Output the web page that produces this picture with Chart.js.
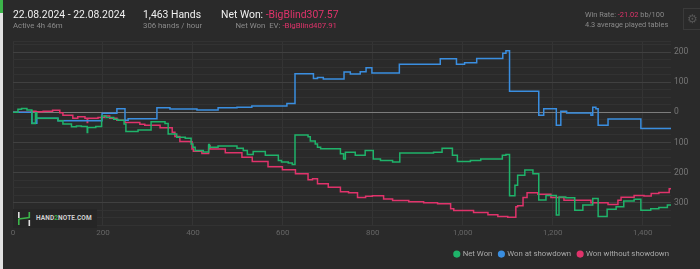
<!DOCTYPE html>
<html>
<head>
<meta charset="utf-8">
<script src="https://cdn.jsdelivr.net/npm/chart.js@4.4.1/dist/chart.umd.min.js"></script>
<style>
  html, body { margin: 0; padding: 0; background: #2a2a2a; }
  body { width: 700px; height: 269px; position: relative; overflow: hidden; font-family: Roboto, 'Noto Sans', sans-serif; }
  .t { position: absolute; white-space: nowrap; line-height: 1; }
  .big { font-size: 10.4px; color: #f0f0f0; }
  .small { font-size: 7.8px; color: #8a8a8a; }
  .tiny { font-size: 7.4px; color: #8a8a8a; }
  .neg { color: #e0336b; }
  #chartBox { position: absolute; left: 0; top: 0; width: 700px; height: 269px; }
  #edge { position: absolute; left: 0; top: 0; width: 3px; height: 269px; background: #e2e2e2; }
  #edge::before { content: ''; position: absolute; left: 0; top: 0; width: 3px; height: 13px; background: #3cb54a; }
  #gear { position: absolute; left: 683px; top: 8px; width: 17px; height: 22px; border: 1px solid #3a3a3a; border-right: none; box-sizing: border-box; color: #555; font-size: 12px; text-align: center; line-height: 20px; }
  #wm { position: absolute; left: 13px; top: 209px; width: 84px; height: 19px; background: #262626; }
  #wm span.txt { position: absolute; left: 23px; top: 6px; font-size: 6.5px; font-weight: bold; color: #d0d0d0; letter-spacing: 0.1px; line-height: 1; }
  #wm svg { position: absolute; left: 4px; top: 3px; }
</style>
</head>
<body>
<div id="chartBox"><canvas id="chart" width="700" height="269"></canvas></div>

<div class="t big" style="left:13px; top:9.5px;">22.08.2024 - 22.08.2024</div>
<div class="t small" style="left:13px; top:22px;">Active 4h 46m</div>
<div class="t big" style="left:143px; top:9.5px;">1,463 Hands</div>
<div class="t small" style="left:143px; top:22px;">306 hands / hour</div>
<div class="t big" style="left:221px; top:9.5px;">Net Won: <span class="neg">-BigBlind307.57</span></div>
<div class="t small" style="right:363px; top:22px;">Net Won&nbsp; EV: <span class="neg">-BigBlind407.91</span></div>
<div class="t tiny" style="left:585px; top:11px;">Win Rate: <span class="neg">-21.02</span> bb/100</div>
<div class="t tiny" style="left:585px; top:21px;">4.3 average played tables</div>
<div id="gear">&#9881;</div>
<div id="edge"></div>
<div id="wm">
  <svg width="14" height="14" viewBox="0 0 14 14">
    <rect x="1" y="0" width="1.6" height="6" fill="#e0e0e0"/>
    <rect x="1" y="7" width="1.6" height="6" fill="#3cb54a"/>
    <rect x="11.5" y="0" width="1.6" height="6" fill="#3cb54a"/>
    <rect x="11.5" y="8" width="1.6" height="6" fill="#e0e0e0"/>
    <line x1="1.5" y1="7" x2="12.5" y2="5.5" stroke="#3cb54a" stroke-width="1.5"/>
  </svg>
  <span class="txt">HAND<span style="color:#3cb54a">2</span>NOTE.COM</span>
</div>

<script>
// hands where each level starts, and the cumulative big blinds from there
const netHands = [0, 11, 19, 31, 42, 50, 53, 100, 111, 130, 141, 152, 165, 166, 184, 197, 207, 224, 233, 247, 251, 278, 307, 338, 345, 364, 383, 396, 400, 405, 423, 435, 437, 456, 498, 512, 521, 534, 561, 590, 597, 612, 621, 627, 656, 661, 672, 677, 684, 728, 735, 739, 761, 783, 801, 817, 844, 860, 935, 954, 977, 988, 1017, 1040, 1088, 1096, 1104, 1116, 1122, 1138, 1156, 1169, 1185, 1208, 1214, 1229, 1249, 1267, 1289, 1301, 1321, 1341, 1358, 1381, 1396, 1418, 1436, 1455, 1463];
const netWon =   [0, 10, 13, 8, -37, -1, -20, -28, -39, -48, -45, -47, -67, -50, -47, -12, -17, -23, -26, -39, -64, -59, -31, -37, -72, -83, -86, -105, -116, -127, -132, -107, -116, -112, -119, -127, -140, -130, -143, -160, -165, -168, -173, -75, -81, -95, -105, -116, -121, -138, -155, -133, -143, -127, -155, -160, -165, -135, -133, -119, -143, -163, -160, -155, -143, -140, -277, -242, -209, -192, -204, -291, -276, -341, -281, -284, -325, -308, -286, -346, -322, -314, -295, -289, -325, -320, -316, -308, -307.57];

const sdHands = [0, 42, 53, 100, 198, 231, 249, 256, 320, 349, 409, 456, 498, 531, 609, 627, 668, 677, 690, 736, 750, 772, 785, 798, 859, 950, 986, 1004, 1031, 1089, 1096, 1104, 1169, 1180, 1208, 1218, 1231, 1285, 1289, 1296, 1301, 1323, 1396, 1463];
const sdWon =   [0, -36, -20, -28, -3, 12, -26, -21, 15, 11, 8, 15, 17, 21, 29, 128, 112, 116, 111, 134, 127, 135, 148, 131, 160, 178, 160, 165, 179, 196, 205, 70, -10, 12, -43, 4, -2, -10, 17, 12, -43, -22, -54, -54];

const nsdHands = [0, 41, 51, 67, 88, 104, 111, 133, 144, 160, 165, 166, 189, 204, 215, 231, 249, 282, 293, 327, 354, 360, 371, 394, 398, 401, 420, 435, 438, 472, 509, 532, 567, 599, 628, 656, 666, 677, 701, 728, 746, 766, 784, 799, 824, 844, 880, 913, 944, 973, 980, 1024, 1056, 1078, 1100, 1118, 1122, 1134, 1143, 1167, 1196, 1225, 1285, 1323, 1345, 1352, 1381, 1403, 1419, 1436, 1459, 1463];
const nsdWon =   [0, 4, 2, 4, 7, -1, -10, -20, -15, -20, -34, -20, -17, -12, -20, -26, -34, -40, -43, -51, -66, -80, -97, -98, -122, -129, -137, -111, -122, -134, -149, -163, -181, -191, -204, -224, -221, -237, -249, -264, -267, -283, -279, -277, -288, -293, -297, -300, -304, -320, -326, -333, -340, -346, -349, -314, -310, -283, -267, -272, -283, -292, -300, -306, -292, -282, -276, -278, -270, -266, -254, -253];

const seriesNames = ['Net Won', 'Won at showdown', 'Won without showdown'];
const seriesColors = ['#1fb36a', '#3a8ee0', '#e0336b'];
const xTicks = [0, 200, 400, 600, 800, 1000, 1200, 1400];
const yTicks = [];
for (let v = -375; v <= 225; v += 25) yTicks.push(v);
yTicks.push(237);

function toPoints(xs, ys) {
  return xs.map((x, i) => ({ x: x, y: ys[i] }));
}

const lineStyle = { borderWidth: 1.5, pointRadius: 0, stepped: true, tension: 0, fill: false };

// legend ends at the plot's right edge, not the canvas edge
const legendShift = {
  id: 'legendShift',
  afterLayout(chart) {
    const lg = chart.legend;
    const d = lg.right - chart.chartArea.right - 5;
    lg.left -= d;
    lg.right -= d;
    lg.top += 4;
    lg.bottom += 4;
  }
};

new Chart(document.getElementById('chart').getContext('2d'), {
  type: 'line',
  data: {
    datasets: [
      { label: seriesNames[0], data: toPoints(netHands, netWon), borderColor: seriesColors[0], backgroundColor: seriesColors[0], ...lineStyle },
      { label: seriesNames[1], data: toPoints(sdHands, sdWon), borderColor: seriesColors[1], backgroundColor: seriesColors[1], ...lineStyle },
      { label: seriesNames[2], data: toPoints(nsdHands, nsdWon), borderColor: seriesColors[2], backgroundColor: seriesColors[2], ...lineStyle }
    ]
  },
  plugins: [legendShift],
  options: {
    responsive: false,
    animation: false,
    layout: { padding: { left: 13, top: 41, right: 0, bottom: 5 } },
    plugins: {
      tooltip: { enabled: false },
      legend: {
        position: 'bottom',
        align: 'end',
        labels: {
          usePointStyle: true,
          pointStyle: 'circle',
          boxWidth: 4,
          boxHeight: 4,
          padding: 7,
          color: '#a8a8a8',
          font: { family: 'Roboto', size: 7.8 }
        }
      }
    },
    scales: {
      x: {
        type: 'linear',
        min: 0,
        max: 1463,
        afterBuildTicks: axis => { axis.ticks = xTicks.map(v => ({ value: v })); },
        afterFit: axis => { axis.height = 14; },
        grid: { color: '#343434', drawTicks: false },
        border: { display: false },
        ticks: {
          padding: 3,
          color: '#666',
          font: { family: 'Roboto', size: 8 },
          maxRotation: 0,
          callback: v => v.toLocaleString('en-US')
        }
      },
      y: {
        position: 'right',
        min: -375,
        max: 237,
        afterBuildTicks: axis => { axis.ticks = yTicks.map(v => ({ value: v })); },
        afterFit: axis => { axis.width = 29; },
        grid: {
          drawTicks: false,
          color: c => {
            const v = c.tick.value;
            if (v === 0) return '#7c7c7c';
            if (v % 100 === 0) return '#404040';
            return '#323232';
          }
        },
        border: { display: false },
        ticks: {
          padding: 3,
          color: '#777',
          font: { family: 'Roboto', size: 8.5 },
          autoSkip: false,
          callback: v => (v % 100 === 0 ? Math.abs(v) : '')
        }
      }
    }
  }
});
</script>
</body>
</html>
